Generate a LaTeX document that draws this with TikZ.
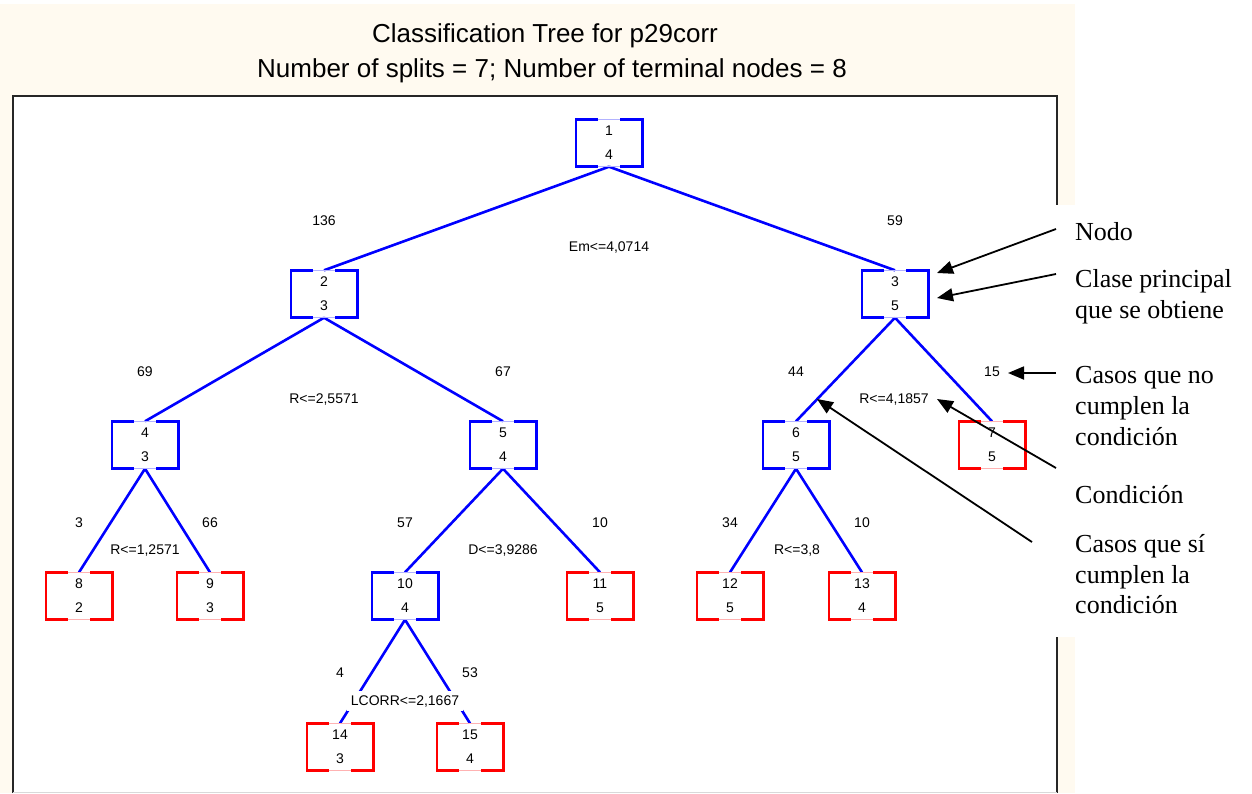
\documentclass[tikz,border=0pt]{standalone}
\usepackage{fontspec}
\setmainfont{Liberation Serif}
\setsansfont{Liberation Sans}
\usetikzlibrary{arrows.meta}

\definecolor{paper}{RGB}{255,250,240}
\definecolor{treeblue}{RGB}{0,0,255}
\definecolor{leafred}{RGB}{255,0,0}

% gapped box outline drawn round a tree node; the gaps keep a faint trace
\newcommand{\treebox}[2]{%
  \draw[line width=1.2pt, #2!30]
    ([xshift=-11pt]#1.north) -- ([xshift=11pt]#1.north)
    ([xshift=-11pt]#1.south) -- ([xshift=11pt]#1.south);
  \draw[line width=2.6pt, line join=miter, #2]
    ([xshift=-11pt]#1.north) -| (#1.south west) -- ([xshift=-11pt]#1.south);
  \draw[line width=2.6pt, line join=miter, #2]
    ([xshift=11pt]#1.south) -| (#1.north east) -- ([xshift=11pt]#1.north);
}

\begin{document}
\begin{tikzpicture}[x=1pt,y=-1pt,
  tn/.style={minimum width=66pt, minimum height=47pt, inner sep=0pt, align=center,
             font=\sffamily\fontsize{14}{24}\selectfont},
  cnt/.style={font=\sffamily\fontsize{14}{16}\selectfont, inner sep=1pt},
  cond/.style={font=\sffamily\fontsize{14}{16}\selectfont, fill=white, inner sep=4pt},
  branch/.style={draw=treeblue, line width=2.6pt},
  note/.style={font=\fontsize{26}{31}\selectfont, anchor=base west, inner sep=0pt},
  pointer/.style={draw=black, line width=1.8pt, -{Triangle[length=16pt,width=13pt]}},
  heading/.style={font=\sffamily\fontsize{26}{30}\selectfont, inner sep=0pt},
]
\useasboundingbox (0,0) rectangle (1252,793);

% backgrounds and plot frame
\fill[white] (0,0) rectangle (1252,793);
\fill[paper] (0,4) rectangle (1075,793);
\fill[white] (13,96) rectangle (1057,793);
\draw[line width=2pt, black!85] (13,793) -- (13,96) -- (1057,96) -- (1057,793);
\draw[line width=1pt, black!15] (13,792) -- (1057,792);

% headings
\node[heading] (title) at (545,36) {Classification Tree for p29corr};
\node[heading] (subtitle) at (552,71) {Number of splits = 7; Number of terminal nodes = 8};

% tree nodes
\node[tn] (n1)  at (609,143) {1\\4};
\node[tn] (n2)  at (324,294) {2\\3};
\node[tn] (n3)  at (895,294) {3\\5};
\node[tn] (n4)  at (145,445) {4\\3};
\node[tn] (n5)  at (503,445) {5\\4};
\node[tn] (n6)  at (796,445) {6\\5};
\node[tn] (n7)  at (992,445) {7\\5};
\node[tn] (n8)  at (79,596)  {8\\2};
\node[tn] (n9)  at (210,596) {9\\3};
\node[tn] (n10) at (405,596) {10\\4};
\node[tn] (n11) at (600,596) {11\\5};
\node[tn] (n12) at (730,596) {12\\5};
\node[tn] (n13) at (862,596) {13\\4};
\node[tn] (n14) at (340,747) {14\\3};
\node[tn] (n15) at (470,747) {15\\4};

% branches
\draw[branch] (n1.south) -- (n2.north);
\draw[branch] (n1.south) -- (n3.north);
\draw[branch] (n2.south) -- (n4.north);
\draw[branch] (n2.south) -- (n5.north);
\draw[branch] (n3.south) -- (n6.north);
\draw[branch] (n3.south) -- (n7.north);
\draw[branch] (n4.south) -- (n8.north);
\draw[branch] (n4.south) -- (n9.north);
\draw[branch] (n5.south) -- (n10.north);
\draw[branch] (n5.south) -- (n11.north);
\draw[branch] (n6.south) -- (n12.north);
\draw[branch] (n6.south) -- (n13.north);
\draw[branch] (n10.south) -- (n14.north);
\draw[branch] (n10.south) -- (n15.north);

% case counts
\node[cnt] (c2)  at (324,221) {136};
\node[cnt] (c3)  at (895,221) {59};
\node[cnt] (c4)  at (145,372) {69};
\node[cnt] (c5)  at (503,372) {67};
\node[cnt] (c6)  at (796,372) {44};
\node[cnt] (c7)  at (992,372) {15};
\node[cnt] (c8)  at (79,523)  {3};
\node[cnt] (c9)  at (210,523) {66};
\node[cnt] (c10) at (405,523) {57};
\node[cnt] (c11) at (600,523) {10};
\node[cnt] (c12) at (730,523) {34};
\node[cnt] (c13) at (862,523) {10};
\node[cnt] (c14) at (340,673) {4};
\node[cnt] (c15) at (470,673) {53};

% split conditions
\node[cond] (s1)  at (609,248) {Em<=4,0714};
\node[cond] (s2)  at (324,399) {R<=2,5571};
\node[cond] (s3)  at (894,399) {R<=4,1857};
\node[cond] (s4)  at (145,550) {R<=1,2571};
\node[cond] (s5)  at (503,550) {D<=3,9286};
\node[cond] (s6)  at (797,550) {R<=3,8};
\node[cond] (s10) at (405,701) {LCORR<=2,1667};

% box outlines
\foreach \n in {n1,n2,n3,n4,n5,n6,n10} {\treebox{\n}{treeblue}}
\foreach \n in {n7,n8,n9,n11,n12,n13,n14,n15} {\treebox{\n}{leafred}}

% legend
\fill[white] (1056,205) rectangle (1252,637);
\node[note] (l1) at (1075,240) {Nodo};
\node[note] (l2) at (1075,287) {Clase principal};
\node[note] (l3) at (1075,318) {que se obtiene};
\node[note] (l4) at (1075,383) {Casos que no};
\node[note] (l5) at (1075,414) {cumplen la};
\node[note] (l6) at (1075,445) {condición};
\node[note] (l7) at (1075,503) {Condición};
\node[note] (l8) at (1075,552) {Casos que sí};
\node[note] (l9) at (1075,583) {cumplen la};
\node[note] (l10) at (1075,613) {condición};

% legend pointers
\coordinate (p1a) at (1056,229);
\coordinate (p1b) at (937,273);
\coordinate (p2a) at (1056,274);
\coordinate (p2b) at (937,298);
\coordinate (p3a) at (1056,373);
\coordinate (p3b) at (1008,373);
\coordinate (p4a) at (1056,468);
\coordinate (p4b) at (937,399);
\coordinate (p5a) at (1032,542);
\coordinate (p5b) at (817,399);
\draw[pointer] (p1a) -- (p1b);
\draw[pointer] (p2a) -- (p2b);
\draw[pointer] (p3a) -- (p3b);
\draw[pointer] (p4a) -- (p4b);
\draw[pointer] (p5a) -- (p5b);
\end{tikzpicture}
\end{document}
